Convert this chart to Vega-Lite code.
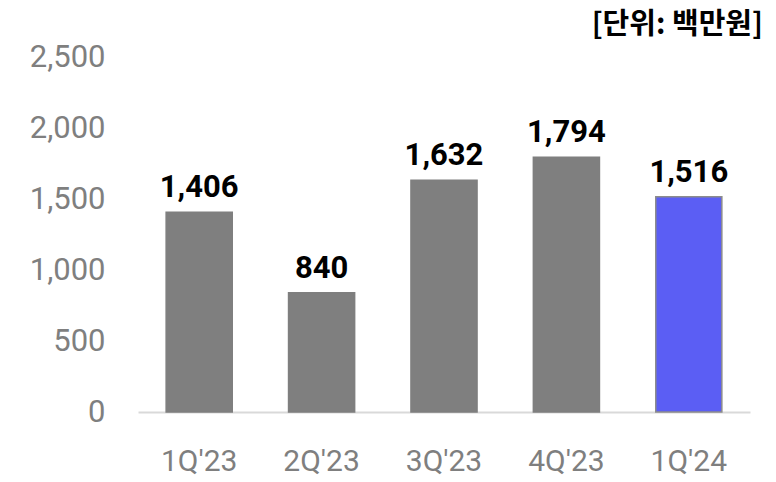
{
  "$schema": "https://vega.github.io/schema/vega-lite/v6.json",
  "width": 612,
  "height": 355,
  "autosize": {"type": "none"},
  "padding": {"left": 138, "top": 57, "right": 26, "bottom": 70},
  "background": "white",
  "config": {"view": {"stroke": null}},
  "title": {
    "text": "[단위: 백만원]",
    "anchor": "end",
    "orient": "top",
    "font": "Noto Sans CJK KR",
    "fontSize": 29,
    "fontWeight": "bold",
    "color": "#000000",
    "offset": 1,
    "dx": 13
  },
  "data": {
    "values": [
      {"quarter": "1Q'23", "value": 1406, "highlight": "no"},
      {"quarter": "2Q'23", "value": 840, "highlight": "no"},
      {"quarter": "3Q'23", "value": 1632, "highlight": "no"},
      {"quarter": "4Q'23", "value": 1794, "highlight": "no"},
      {"quarter": "1Q'24", "value": 1516, "highlight": "yes"}
    ]
  },
  "encoding": {
    "x": {
      "field": "quarter",
      "type": "nominal",
      "sort": null,
      "scale": {"paddingInner": 0.46, "paddingOuter": 0.23},
      "axis": {
        "title": null,
        "labelAngle": 0,
        "labelFont": "Roboto",
        "labelFontSize": 30,
        "labelColor": "#7f7f7f",
        "labelPadding": 34,
        "ticks": false,
        "domainColor": "#d9d9d9",
        "domainWidth": 2
      }
    },
    "y": {
      "field": "value",
      "type": "quantitative",
      "scale": {"domain": [0, 2500]},
      "axis": {
        "title": null,
        "values": [0, 500, 1000, 1500, 2000, 2500],
        "format": ",d",
        "labelFont": "Roboto",
        "labelFontSize": 31,
        "labelColor": "#7f7f7f",
        "labelPadding": 33,
        "domain": false,
        "ticks": false,
        "grid": false
      }
    }
  },
  "layer": [
    {
      "mark": {"type": "bar", "strokeWidth": 1.5},
      "encoding": {
        "color": {
          "field": "highlight",
          "type": "nominal",
          "scale": {"domain": ["no", "yes"], "range": ["#7f7f7f", "#5b5ef4"]},
          "legend": null
        },
        "stroke": {
          "field": "highlight",
          "type": "nominal",
          "scale": {"domain": ["no", "yes"], "range": ["#7f7f7f", "#8c8c8c"]},
          "legend": null
        }
      }
    },
    {
      "mark": {
        "type": "text",
        "font": "Roboto",
        "fontSize": 31,
        "fontWeight": "bold",
        "color": "#000000",
        "baseline": "bottom",
        "dy": -8
      },
      "encoding": {
        "text": {"field": "value", "type": "quantitative", "format": ",d"}
      }
    }
  ]
}
